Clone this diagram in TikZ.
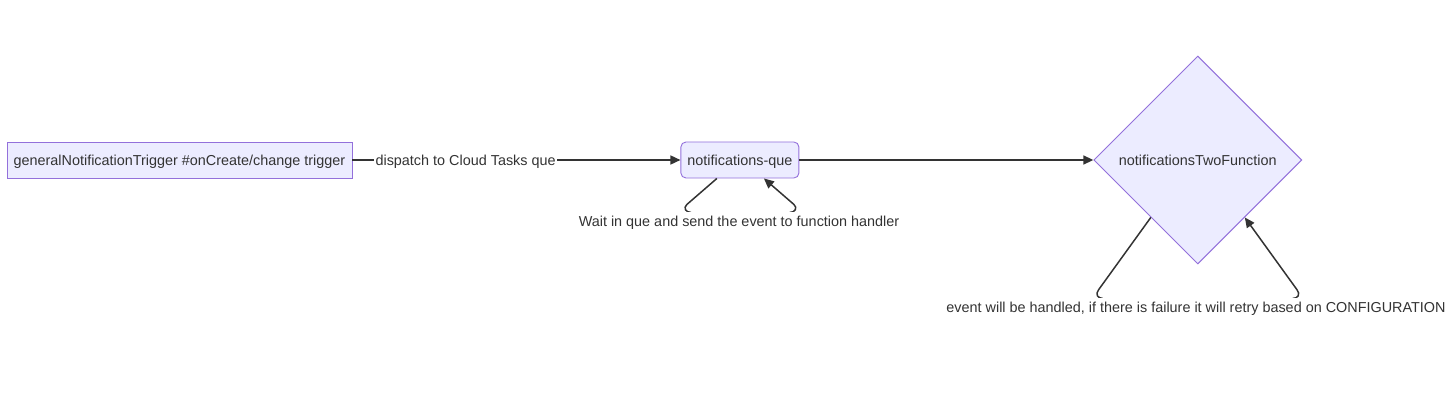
\documentclass[tikz,border=0pt]{standalone}
\usepackage{fontspec}
\setmainfont{Liberation Sans}
\usetikzlibrary{arrows.meta, shapes.geometric, positioning, calc}
\definecolor{nodefill}{HTML}{ECECFF}
\definecolor{nodeline}{HTML}{9370DB}
\definecolor{edgeline}{HTML}{333333}
\begin{document}
\begin{tikzpicture}[x=1pt, y=-1pt,
  every node/.style={font=\fontsize{14.4}{17}\selectfont, text=edgeline,
                     text height=14pt, text depth=2.5pt},
  blk/.style={rectangle, draw=nodeline, fill=nodefill, line width=0.9pt,
              minimum height=36pt, inner sep=0pt},
  dec/.style={diamond, aspect=1, draw=nodeline, fill=nodefill, line width=0.9pt,
              minimum size=208pt, inner sep=0pt},
  arr/.style={-{Triangle[length=10pt, width=9pt]}, draw=edgeline, line width=1.5pt},
  lbl/.style={fill=white, inner xsep=1.5pt, inner ysep=0.5pt}
]
\useasboundingbox (0,0) rectangle (1451,417);
\node[blk, minimum width=345pt] (trig) at (179.5,160) {generalNotificationTrigger \#onCreate/change trigger};
\node[blk, minimum width=118pt, rounded corners=5pt, right=328pt of trig] (que) {notifications-que};
\node[dec, right=294pt of que] (fn) {notificationsTwoFunction};
\draw[arr] (trig) -- node[lbl, pos=0.345] {dispatch to Cloud Tasks que} (que);
\draw[arr] (que) -- (fn);
\coordinate (qa) at ([xshift=-23pt]que.south);
\coordinate (qb) at ([xshift=24pt]que.south);
\draw[arr] (qa) -- ++(-30,26) .. controls ++(-4,3.5) and ++(-5,0) .. ++(4,8) ++(99,0)
  .. controls ++(5,0) and ++(4,3.5) .. ++(4,-8) -- (qb);
\node[lbl] (qlbl) at (739,221) {Wait in que and send the event to function handler};
\coordinate (fa) at ($(fn.west)!0.55!(fn.south)$);
\coordinate (fb) at ($(fn.east)!0.55!(fn.south)$);
\draw[arr] (fa) -- ++(-52,72) .. controls ++(-4,5) and ++(-5,0) .. ++(4,9) ++(190,0)
  .. controls ++(5,0) and ++(4,5) .. ++(4,-9) -- (fb);
\node[lbl] (flbl) at (1196,307) {event will be handled, if there is failure it will retry based on CONFIGURATION};
\end{tikzpicture}
\end{document}
